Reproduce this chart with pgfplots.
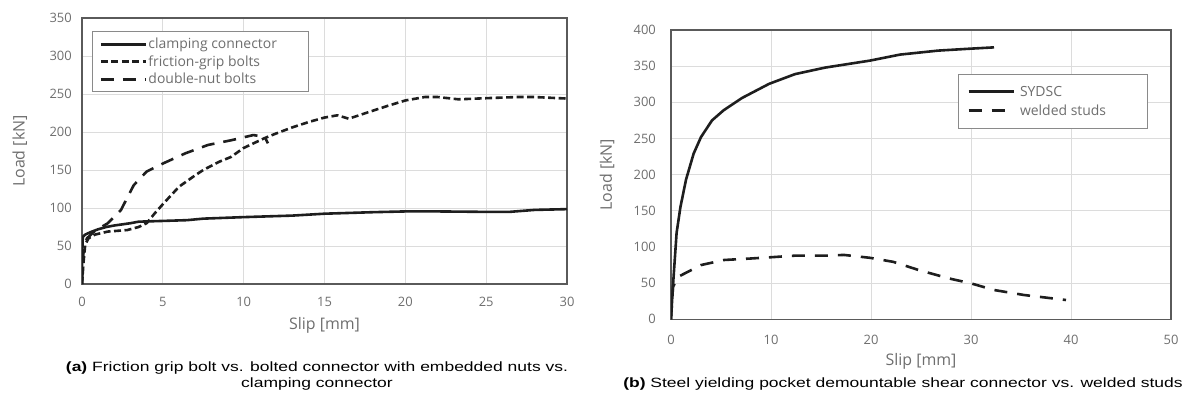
\documentclass[border=0pt]{standalone}
\usepackage{pgfplots}
\pgfplotsset{compat=1.18}
\usepackage{fontspec}
\setmainfont{Liberation Sans}
\newfontfamily\chartfont{Open Sans}
\newfontfamily\capfont{Liberation Sans}[FakeStretch=1.3]
\definecolor{txtgray}{HTML}{6E6E6E}
\definecolor{axgray}{HTML}{5A5A5A}
\definecolor{grdgray}{HTML}{DCDCDC}
\definecolor{lngray}{HTML}{1E1E1E}
\definecolor{lgdgray}{HTML}{8A8A8A}
\pgfplotsset{
  mystyle/.style={
    scale only axis,
    grid=major,
    grid style={draw=grdgray, line width=1bp},
    axis line style={draw=axgray, line width=1.5bp},
    major tick length=0pt,
    tick style={draw=none},
    ticklabel style={font=\chartfont\fontsize{13}{15}\selectfont, text=txtgray, inner sep=0pt},
    /pgf/number format/assume math mode=true,
    label style={font=\chartfont\fontsize{16}{18}\selectfont, text=txtgray},
    legend cell align=left,
    legend image code/.code={\draw[##1, line width=3bp] (0bp,0bp) -- (45bp,0bp);},
  },
  dataline/.style={line width=2.6bp, draw=lngray, line join=round, mark=none},
}
\begin{document}
\begin{tikzpicture}
\useasboundingbox (0,0) rectangle (1188bp,-410bp);
% ---------------- left chart ----------------
\begin{axis}[mystyle,
  at={(82bp,-284bp)}, anchor=south west,
  width=485bp, height=266bp,
  xmin=0, xmax=30, ymin=0, ymax=350,
  xtick={0,5,...,30}, ytick={0,50,...,350},
  yticklabel style={anchor=east, xshift=-10bp},
  xticklabel style={anchor=center, yshift=-18bp},
  xlabel={Slip [mm]}, ylabel={Load [kN]},
  xlabel style={at={(axis description cs:0.5,-0.154)}, anchor=center},
  ylabel style={at={(axis description cs:-0.128,0.5)}, anchor=center},
  legend style={at={(axis description cs:0.0206,0.951)}, anchor=north west,
    draw=lgdgray, line width=1bp, fill=white,
    font=\chartfont\fontsize{14}{15.5}\selectfont, text=txtgray,
    inner xsep=7bp, inner ysep=5.5bp, row sep=3.5bp, column sep=0pt,
    nodes={inner sep=1bp}},
]
\addplot[dataline] coordinates {(0,0) (0,30) (0.05,62) (0.2,65) (0.5,68) (1,72) (1.5,75) (2,77) (3,80) (3.5,82) (5,83) (6.5,84) (7.5,86) (10,88) (13,90) (15,92.5) (18,94.5) (20,95.5) (22,95.5) (24.5,95) (26.5,95) (28,97.5) (30,98.5)};
\addlegendentry{\makebox[152bp][l]{clamping connector}}
\addplot[dataline, dash pattern=on 7bp off 3.5bp] coordinates {(0,0) (0.1,30) (0.2,52) (0.4,60) (0.8,65) (1.6,69) (2.8,71) (3.5,75) (4,80) (4.5,93) (5,105) (6,128) (7,143) (7.5,150) (8.5,161) (9.2,167) (10,179) (11.3,192) (12,198) (13,206) (14,213) (15,219) (15.8,222) (16.5,217.5) (17.7,226) (19,235) (20,241.5) (21.2,246) (22,246) (23.3,243) (25,244.5) (26.9,246) (28,246) (29,245) (30,244)};
\addlegendentry{\makebox[152bp][l]{friction-grip bolts}}
\addplot[dataline, dash pattern=on 13bp off 9bp] coordinates {(0,0) (0.1,45) (0.3,60) (0.8,70) (1.6,80) (2.4,97) (3.2,130) (4,148) (5,158.5) (6.4,172) (7.8,183) (9.2,189) (10.6,196) (11.3,193.5) (11.5,185)};
\addlegendentry{\makebox[152bp][l]{double-nut bolts}}
\end{axis}
% ---------------- right chart ----------------
\begin{axis}[mystyle,
  at={(671bp,-319.3bp)}, anchor=south west,
  width=500bp, height=289.3bp,
  xmin=0, xmax=50, ymin=0, ymax=400,
  xtick={0,10,...,50}, ytick={0,50,...,400},
  yticklabel style={anchor=east, xshift=-15bp},
  xticklabel style={anchor=center, yshift=-21bp},
  xlabel={Slip [mm]}, ylabel={Load [kN]},
  xlabel style={at={(axis description cs:0.5,-0.1466)}, anchor=center},
  ylabel style={at={(axis description cs:-0.128,0.5)}, anchor=center},
  legend style={at={(axis description cs:0.574,0.848)}, anchor=north west,
    draw=lgdgray, line width=1bp, fill=white,
    font=\chartfont\fontsize{14}{17}\selectfont, text=txtgray,
    inner xsep=8.5bp, inner ysep=10.5bp, row sep=5bp, column sep=4bp,
    nodes={inner sep=1bp}},
]
\addplot[dataline] coordinates {(0,0) (0.19,45) (0.56,119.5) (0.94,155) (1.5,193) (2.26,229) (3,252) (4.1,275) (5.26,289) (7.1,306) (9.8,325.5) (12.4,339) (15.4,348) (19.9,357.7) (22.9,366) (26.7,371.5) (29.7,374) (32.3,376)};
\addlegendentry{\makebox[118bp][l]{SYDSC}}
\addplot[dataline, dash pattern=on 13bp off 10bp] coordinates {(0,0) (0.2,45) (0.75,59) (3,75) (5.3,82) (7.9,84) (10.2,86) (12.4,88) (15.4,88) (17.3,89) (19.9,85) (22.2,79.5) (24.8,68) (27.8,56.5) (30,49.7) (32.3,40.5) (35.3,33.6) (39.5,26.7)};
\addlegendentry{\makebox[118bp][l]{welded studs}}
\end{axis}
% ---------------- captions ----------------
\node[align=center, font=\capfont\fontsize{13.5}{16}\selectfont, anchor=center] at (317bp,-376bp)
  {{\bfseries (a)} Friction grip bolt vs. bolted connector with embedded nuts vs.\\ clamping connector};
\node[font=\capfont\fontsize{13.5}{16}\selectfont, anchor=center] at (903bp,-384bp)
  {{\bfseries (b)} Steel yielding pocket demountable shear connector vs. welded studs};
\end{tikzpicture}
\end{document}
